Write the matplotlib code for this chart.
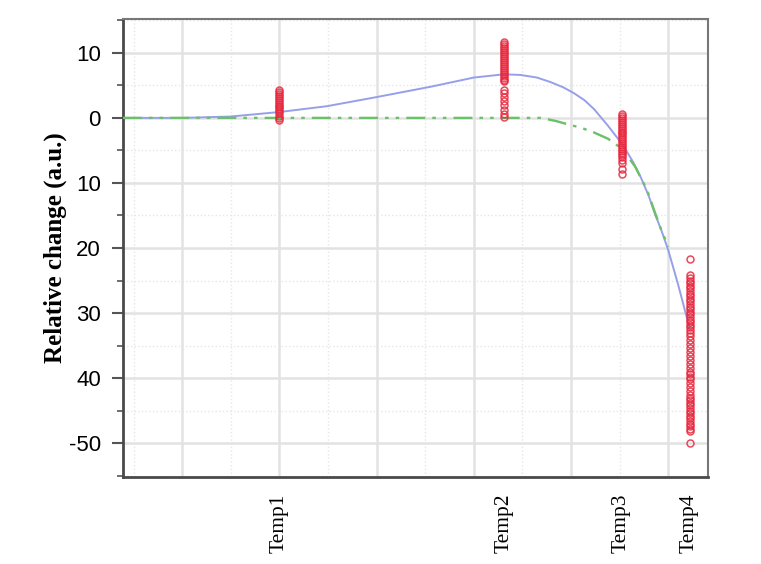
import matplotlib
matplotlib.use('Agg')
import matplotlib.pyplot as plt
import numpy as np
from matplotlib.ticker import MultipleLocator

# x positions of the four temperatures and their labels
temp_pos = [2.0, 4.31, 5.52, 6.22]
temp_labels = ['Temp1', 'Temp2', 'Temp3', 'Temp4']

# y ticks (labels as printed on the original)
y_ticks = [10, 0, -10, -20, -30, -40, -50]
y_tick_labels = ['10', '0', '10', '20', '30', '40', '-50']

# blue fitted curve
fit_x = [0.39, 1.0, 1.49, 2.0, 2.49, 3.0, 3.56, 4.0, 4.31, 4.48, 4.65, 4.79,
         4.92, 5.03, 5.14, 5.24, 5.38, 5.53, 5.64, 5.72, 5.80, 5.86, 5.93,
         6.0, 6.10, 6.22]
fit_y = [0.0, 0.0, 0.2, 0.9, 1.8, 3.2, 4.8, 6.2, 6.7, 6.6, 6.2, 5.5,
         4.7, 3.8, 2.7, 1.3, -1.2, -4.1, -6.8, -9.2, -12.0, -14.6, -17.3,
         -20.3, -25.5, -32.3]

# green dash-dot curve
ref_x = [0.39, 4.69, 4.85, 4.97, 5.10, 5.23, 5.38, 5.53, 5.66, 5.78, 5.91, 6.0]
ref_y = [0.0, 0.0, -0.5, -1.0, -1.5, -2.2, -3.2, -4.8, -7.5, -11.0, -16.5, -19.8]

# measured points at each temperature
t1_vals = [4.3, 4.0, 3.7, 3.4, 3.1, 2.8, 2.5, 2.2, 1.9, 1.6, 1.3, 1.0,
           0.7, 0.3, 0.0, -0.4]
t2_vals = [11.6, 11.3, 11.0, 10.7, 10.4, 10.1, 9.8, 9.5, 9.2, 8.9, 8.6, 8.3,
           8.0, 7.7, 7.4, 7.1, 6.8, 6.5, 6.2, 5.9, 5.6, 4.3, 3.8, 3.2, 2.6,
           2.0, 1.2, 0.6, 0.1]
t3_vals = [0.6, 0.3, 0.0, -0.3, -0.6, -0.9, -1.2, -1.5, -1.8, -2.1, -2.4,
           -2.7, -3.0, -3.3, -3.6, -3.9, -4.2, -4.5, -4.8, -5.1, -5.4, -5.7,
           -6.0, -6.4, -7.0, -7.8, -8.6]
t4_vals = [-21.7, -24.2, -24.6, -25.0, -25.4, -25.8, -26.2, -26.6, -27.0,
           -27.4, -27.8, -28.2, -28.6, -29.0, -29.4, -29.8, -30.2, -30.6,
           -31.0, -31.4, -31.8, -32.2, -32.6, -33.0, -33.6, -34.2, -34.8,
           -35.4, -36.0, -36.6, -37.2, -37.8, -38.4, -39.0, -39.4, -39.8,
           -40.2, -40.8, -41.4, -42.0, -42.6, -43.0, -43.4, -43.8, -44.2,
           -44.6, -45.0, -45.4, -45.8, -46.2, -46.6, -47.0, -47.4, -47.8,
           -48.2, -50.0]

fig = plt.figure(figsize=(7.61, 5.64), dpi=100)
ax = fig.add_axes([0.1616, 0.1543, 0.7688, 0.8120])

# background grid
ax.set_axisbelow(True)
for gx in np.arange(1, 7):
    ax.axvline(gx, color='#e2e2e2', lw=1.8, zorder=0)
for gx in np.arange(0.5, 6.5, 1.0):
    ax.axvline(gx, color='#e6e6e6', lw=1.0, ls=':', zorder=0)
ax.yaxis.set_major_locator(MultipleLocator(10))
ax.yaxis.set_minor_locator(MultipleLocator(5))
ax.grid(axis='y', which='major', color='#e2e2e2', lw=1.8)
ax.grid(axis='y', which='minor', color='#e6e6e6', lw=1.0, ls=':')

ax.plot(fit_x, fit_y, color='#95a0e8', lw=1.4, zorder=3)
ax.plot(ref_x, ref_y, color='#6cc06a', lw=1.7, zorder=3,
        ls=(0, (8, 3, 1.5, 3, 1.5, 3)))

for xp, vals in zip(temp_pos, [t1_vals, t2_vals, t3_vals, t4_vals]):
    ax.plot([xp] * len(vals), vals, 'o', ms=5.0, mfc='none', mec='#e8283e',
            mew=1.1, alpha=0.85, zorder=4)

ax.set_xlim(0.39, 6.41)
ax.set_ylim(-55.2, 15.2)

ax.set_yticks(y_ticks)
ax.set_yticklabels(y_tick_labels, fontfamily='Liberation Sans', fontsize=16)
ax.tick_params(axis='y', which='major', length=8, width=1.5, color='#555555',
               pad=8)
ax.tick_params(axis='y', which='minor', length=4, width=1.2, color='#555555')

ax.set_xticks(temp_pos)
ax.set_xticklabels(temp_labels, rotation=90, fontfamily='Liberation Serif',
                   fontsize=15.5)
ax.tick_params(axis='x', length=0, pad=12)

ax.set_ylabel('Relative change (a.u.)', fontfamily='Liberation Serif',
              fontweight='bold', fontsize=18, labelpad=1)

for side in ['left', 'bottom']:
    ax.spines[side].set_color('#4a4a4a')
    ax.spines[side].set_linewidth(2.0)
for side in ['right', 'top']:
    ax.spines[side].set_color('#777777')
    ax.spines[side].set_linewidth(1.5)

plt.savefig('out.png', dpi=100)
